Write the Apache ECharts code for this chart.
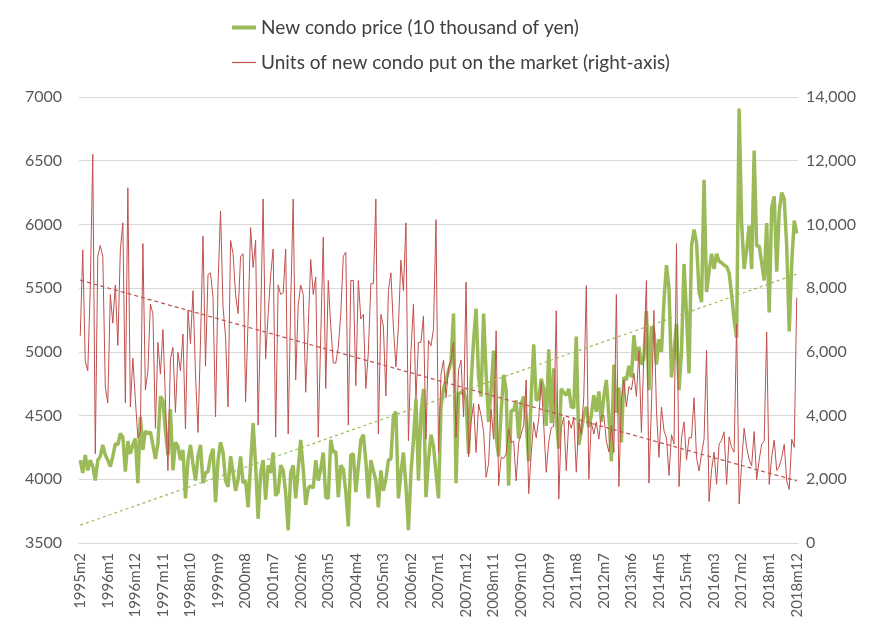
<!DOCTYPE html>
<html>
<head>
<meta charset="utf-8">
<script src="https://cdn.jsdelivr.net/npm/echarts@6/dist/echarts.min.js"></script>
<style>
  html, body { margin: 0; padding: 0; background: #fff; }
  #chart { width: 875px; height: 640px; }
</style>
</head>
<body>
<div id="chart"></div>
<script>
// monthly categories 1995m2 .. 2018m12
const months = []
for (let y = 1995; y <= 2018; y++) {
  for (let m = (y === 1995 ? 2 : 1); m <= 12; m++) months.push(y + 'm' + m)
}

// new condo price (10 thousand yen), left axis
const price = [
  4150,4050,4190,4070,4150,4100,3990,4150,4180,4270,4190,4150,
  4100,4180,4280,4270,4360,4330,4060,4300,4200,4270,4320,3970,
  4490,4230,4380,4360,4370,4270,4160,4280,4650,4620,4380,4190,
  4550,4070,4290,4260,4150,4230,3850,4150,4270,4120,3990,4180,
  4270,3970,4050,4060,4180,4240,3820,4150,4290,4210,3990,3940,
  4180,4050,3910,4000,4180,3970,3990,3780,4120,4440,4110,3690,
  4050,4150,3840,4110,4050,4210,3870,3900,4110,4070,3890,3600,
  4050,4110,3850,4080,4310,4080,3800,3930,3950,3930,4150,3990,
  4080,4210,3860,3850,4310,4210,4220,3860,4110,4080,3900,3630,
  4190,4200,3900,4100,4310,4350,4140,3850,4150,4070,3990,3780,
  4070,3910,4000,4150,4160,4500,4530,3850,4050,4210,3950,3600,
  4050,4310,4630,3990,4510,4710,3860,4150,4350,4260,4050,3850,
  4570,4710,4780,4850,4920,5300,3970,4670,4680,4700,4620,4200,
  4750,5090,5340,4800,4650,5300,4830,4450,4700,5010,4330,4180,
  4530,4820,4700,3950,4540,4540,4620,4320,4590,4650,4450,4140,
  4650,5060,4620,4630,4790,4710,4420,5020,4440,4870,4500,4240,
  4710,4680,4660,4710,4570,4560,5120,4270,4380,4500,4570,4410,
  4500,4660,4530,4690,4450,4650,4780,4500,4140,4900,4520,4720,
  4290,4800,4780,4890,4800,5130,4930,5040,4900,4950,5320,4700,
  5200,5150,4900,5100,5000,5400,5680,5500,4800,5000,5220,4700,
  5000,5690,5300,4830,5830,5960,5860,5470,5390,6350,5470,5630,
  5770,5650,5770,5710,5700,5680,5670,5620,5450,5250,5110,6910,
  6010,5650,5800,5990,5650,6580,5830,5830,5700,5560,6010,5310,
  6130,6220,5630,6100,6250,6200,5830,5160,5700,6030,5930
]

// units put on the market, right axis
const units = [
  6500,9200,5700,5400,8000,12200,2800,9000,9340,9000,4900,4400,
  7800,6900,8100,6200,9200,10050,4400,11150,4270,5800,4500,3300,
  3500,9400,4800,5400,7500,7200,3600,6300,5300,6700,4500,2270,
  5780,6140,4100,5980,5400,6560,3580,7300,6250,7920,5300,3470,
  6340,9630,5550,8430,8480,7700,3960,8120,10420,7400,6460,4270,
  9500,9080,7800,7200,9000,9080,4430,7000,9900,8650,9500,3700,
  7000,10800,5780,7200,8400,9230,3320,8100,7800,7850,9230,3420,
  7500,10800,5120,7460,8100,7800,4730,6770,8900,7800,8350,3320,
  6500,9600,4850,8240,6800,5650,5650,6140,7200,9000,9130,3700,
  8240,8240,4940,8240,7030,7180,4850,6000,8140,8140,10800,3420,
  7180,6800,4620,7920,8480,6770,5530,6800,8880,7920,10050,3210,
  6000,7500,4520,6300,6300,7130,3260,6360,6190,6720,10150,2840,
  5300,5740,4570,5500,5740,6300,3320,5430,5740,3960,8190,2700,
  3800,4380,2840,4360,4000,3500,2060,2500,4200,3260,6660,1800,
  2700,2650,2800,3580,3150,3200,1950,3150,3420,3700,5120,1550,
  2800,3790,3300,3900,5070,3700,2220,3160,3620,3660,7290,1380,
  3620,3950,2270,3850,3600,3950,2220,3800,3420,4600,8080,2000,
  3800,3420,3800,3260,4000,4000,3200,2860,3700,2840,7800,1770,
  4500,5120,4270,4910,4800,5330,4600,6030,3470,6000,8240,1880,
  4300,7300,4160,2690,4270,3530,3300,2120,3400,3110,9400,1770,
  3300,3800,2600,3310,3300,4560,2680,2260,2800,3260,6040,1300,
  2300,2850,1840,3100,3230,3490,1840,3330,3000,2850,6880,1220,
  2500,3600,3000,2620,2420,3500,1990,2600,3100,3210,6620,1840,
  2700,3230,2280,2400,2680,3100,1940,1680,3260,3000,7700
]

// linear trend end points (first month, last month)
const priceTrend = [3640, 5610]
const unitsTrend = [8250, 1950]

const priceName = 'New condo price (10 thousand of yen)'
const unitsName = 'Units of new condo put on the market (right-axis)'
const green = '#9bbb59'
const red = '#c0504d'
const labelColor = '#595959'
const font = 'Lato'

const chart = echarts.init(document.getElementById('chart'))
const first = months[0]
const last = months[months.length - 1]

// one legend per entry so each line sample keeps its own thickness
const legendText = { fontSize: 19, color: '#404040', fontFamily: font }
const option = {
  animation: false,
  textStyle: { fontFamily: font },
  grid: { left: 79, right: 77, top: 97, bottom: 97 },
  legend: [
    {
      data: [{ name: priceName, icon: 'rect', itemStyle: { color: green } }],
      left: 232, top: 18, padding: 0,
      itemWidth: 24, itemHeight: 4,
      textStyle: legendText
    },
    {
      data: [{ name: unitsName, icon: 'rect', itemStyle: { color: red } }],
      left: 232, top: 53, padding: 0,
      itemWidth: 24, itemHeight: 1.2,
      textStyle: legendText
    }
  ],
  xAxis: {
    type: 'category',
    data: months,
    boundaryGap: true,
    axisLine: { lineStyle: { color: '#d9d9d9' } },
    axisTick: { show: false },
    axisLabel: { interval: 10, rotate: 90, color: labelColor, fontSize: 15, margin: 10, fontFamily: font }
  },
  yAxis: [
    {
      type: 'value', min: 3500, max: 7000, interval: 500,
      axisLine: { show: false }, axisTick: { show: false },
      axisLabel: { color: labelColor, fontSize: 16, margin: 17, fontFamily: font, formatter: (v) => String(v) },
      splitLine: { lineStyle: { color: '#d9d9d9' } }
    },
    {
      type: 'value', min: 0, max: 14000, interval: 2000,
      axisLine: { show: false }, axisTick: { show: false },
      axisLabel: {
        color: labelColor, fontSize: 16, margin: 8, fontFamily: font,
        formatter: (v) => v.toLocaleString('en-US')
      },
      splitLine: { show: false }
    }
  ],
  series: [
    {
      name: priceName, type: 'line', yAxisIndex: 0, data: price,
      symbol: 'none', lineStyle: { color: green, width: 3.5 }, itemStyle: { color: green }, z: 2
    },
    {
      name: unitsName, type: 'line', yAxisIndex: 1, data: units,
      symbol: 'none', lineStyle: { color: red, width: 1 }, itemStyle: { color: red }, z: 3
    },
    {
      name: 'price trend', type: 'line', yAxisIndex: 0,
      data: [[first, priceTrend[0]], [last, priceTrend[1]]],
      symbol: 'none', lineStyle: { color: green, width: 1.2, type: [3, 3] }, z: 4
    },
    {
      name: 'units trend', type: 'line', yAxisIndex: 1,
      data: [[first, unitsTrend[0]], [last, unitsTrend[1]]],
      symbol: 'none', lineStyle: { color: red, width: 1.2, type: [4, 3] }, z: 4
    }
  ]
}
chart.setOption(option)
</script>
</body>
</html>
